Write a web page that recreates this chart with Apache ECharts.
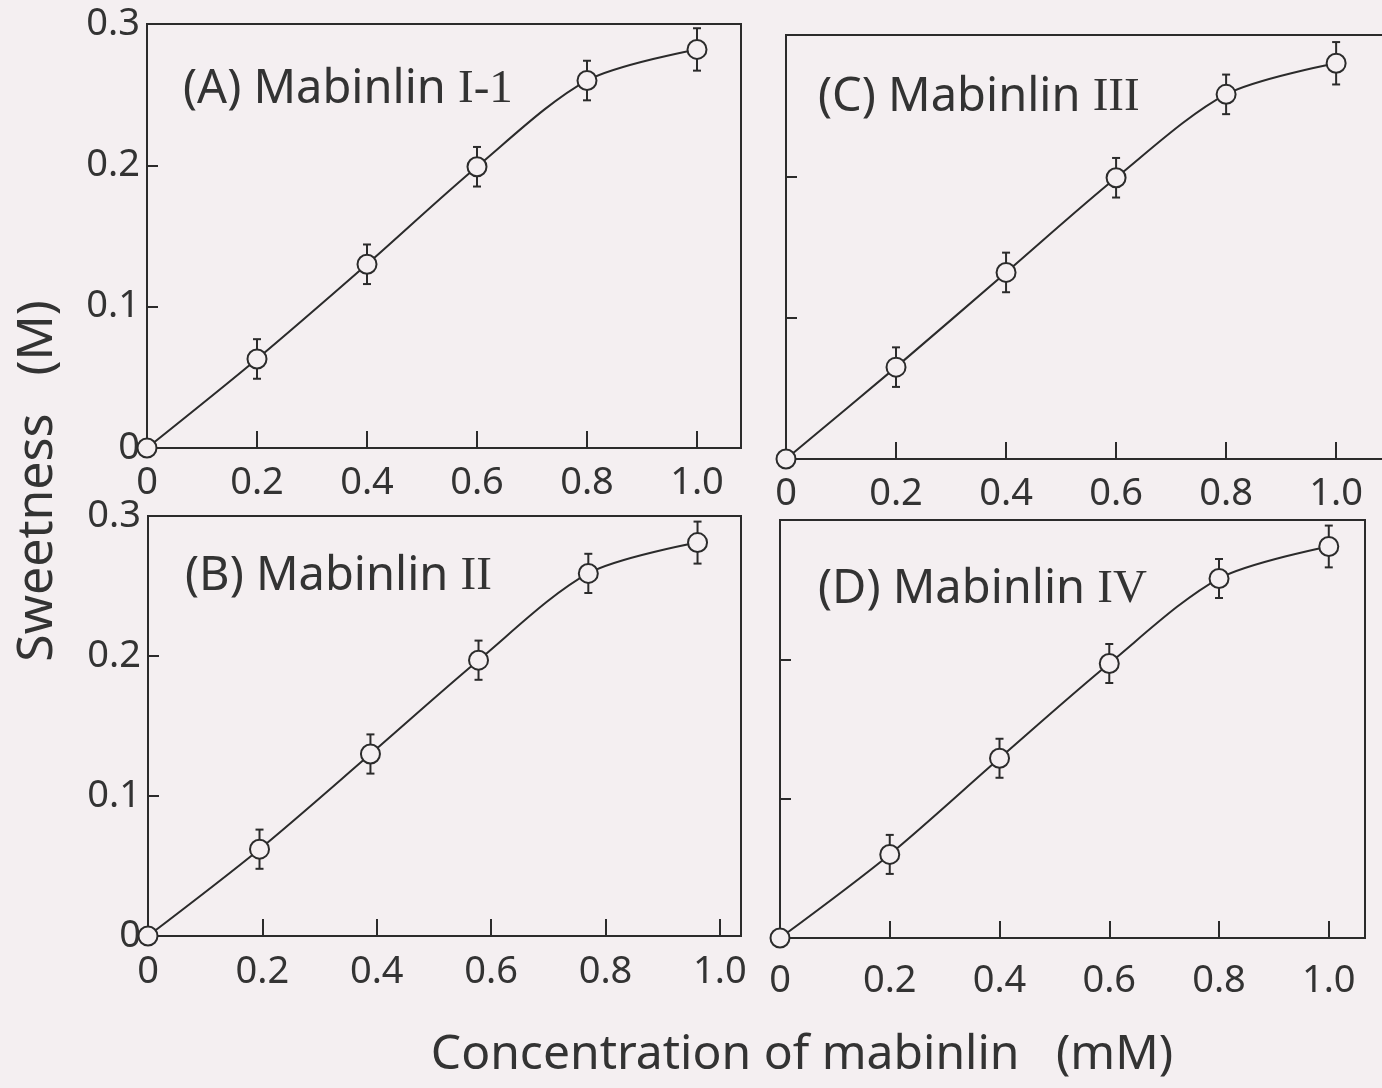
<!DOCTYPE html>
<html>
<head>
<meta charset="utf-8">
<script src="https://cdn.jsdelivr.net/npm/echarts@6/dist/echarts.min.js"></script>
<style>
html,body{margin:0;padding:0;background:#f4eff1;}
#chart{width:1382px;height:1088px;}
</style>
</head>
<body>
<div id="chart"></div>
<script>
// ---- data ----
const xTickValues = [0, 0.2, 0.4, 0.6, 0.8, 1.0];
const yTickValues = [0, 0.1, 0.2, 0.3];

const concA = [0, 0.2, 0.4, 0.6, 0.8, 1.0];
const sweetA = [0, 0.063, 0.130, 0.199, 0.260, 0.282];
const errA = [0, 0.014, 0.014, 0.014, 0.014, 0.015];

const concB = [0, 0.195, 0.389, 0.578, 0.770, 0.961];
const sweetB = [0, 0.062, 0.130, 0.197, 0.259, 0.281];
const errB = [0, 0.014, 0.014, 0.014, 0.014, 0.015];

const concC = [0, 0.2, 0.4, 0.6, 0.8, 1.0];
const sweetC = [0, 0.065, 0.132, 0.199, 0.258, 0.280];
const errC = [0, 0.014, 0.014, 0.014, 0.014, 0.015];

const concD = [0, 0.2, 0.4, 0.6, 0.8, 1.0];
const sweetD = [0, 0.060, 0.129, 0.197, 0.258, 0.281];
const errD = [0, 0.014, 0.014, 0.014, 0.014, 0.015];

const panelNames = ['(A) Mabinlin ', '(B) Mabinlin ', '(C) Mabinlin ', '(D) Mabinlin '];
const panelNumerals = ['I-1', 'II', 'III', 'IV'];
const yAxisTitle = 'Sweetness\u2002 (M)';
const xAxisTitle = 'Concentration of mabinlin\u2002 (mM)';

// ---- styling / layout ----
const INK = '#2b2b2b';
const BG = '#f4eff1';
const FONT = 'Noto Sans';

const panels = [
  {conc: concA, sweet: sweetA, err: errA, grid: {left: 147, top: 24, width: 594, height: 424}, xMax: 1.08, yLabels: true, xMargin: 16},
  {conc: concB, sweet: sweetB, err: errB, grid: {left: 148, top: 516, width: 593, height: 420}, xMax: 1.037, yLabels: true, xMargin: 17},
  {conc: concC, sweet: sweetC, err: errC, grid: {left: 786, top: 35, width: 620, height: 424}, xMax: 1.127, yLabels: false, xMargin: 16},
  {conc: concD, sweet: sweetD, err: errD, grid: {left: 780, top: 520, width: 585, height: 418}, xMax: 1.066, yLabels: false, xMargin: 24}
];
const titlePos = [[178, 61], [180, 548], [813, 69], [813, 561]];

function fmt(v) {
  if (Math.abs(v) < 1e-9) return '0';
  return v.toFixed(1);
}
function onGrid(v, step) {
  return Math.abs(v / step - Math.round(v / step)) < 1e-6;
}

const grids = [], xAxes = [], yAxes = [], series = [], titles = [];

panels.forEach((p, i) => {
  grids.push(Object.assign({show: true, borderColor: INK, borderWidth: 2, backgroundColor: 'transparent',
    containLabel: false, outerBoundsMode: 'none'}, p.grid));
  xAxes.push({
    type: 'value', gridIndex: i, min: 0, max: p.xMax, interval: 0.2,
    axisLine: {show: false},
    axisTick: {show: true, inside: true, length: 17, lineStyle: {color: INK, width: 2}},
    splitLine: {show: false},
    axisLabel: {
      show: true, margin: p.xMargin, fontFamily: FONT, fontSize: 38, color: '#333',
      showMaxLabel: false,
      formatter: v => (onGrid(v, 0.2) && v <= 1.0001) ? fmt(v) : ''
    }
  });
  yAxes.push({
    type: 'value', gridIndex: i, min: 0, max: 0.3, interval: 0.1,
    axisLine: {show: false},
    axisTick: {show: true, inside: true, length: 11, lineStyle: {color: INK, width: 2}},
    splitLine: {show: false},
    axisLabel: {
      show: p.yLabels, margin: 7, fontFamily: FONT, fontSize: 38, color: '#333',
      formatter: v => fmt(v)
    }
  });
  const pts = p.conc.map((x, k) => [x, p.sweet[k]]);
  const bars = p.conc.map((x, k) => [x, p.sweet[k] - p.err[k], p.sweet[k] + p.err[k]]);
  series.push({
    type: 'custom', xAxisIndex: i, yAxisIndex: i, z: 2, clip: false,
    data: bars,
    renderItem: function (params, api) {
      const lo = api.coord([api.value(0), api.value(1)]);
      const hi = api.coord([api.value(0), api.value(2)]);
      if (Math.abs(lo[1] - hi[1]) < 1) return null;
      const w = 4;
      const st = {stroke: INK, lineWidth: 2};
      return {type: 'group', children: [
        {type: 'line', shape: {x1: lo[0], y1: lo[1], x2: hi[0], y2: hi[1]}, style: st},
        {type: 'line', shape: {x1: lo[0] - w, y1: lo[1], x2: lo[0] + w, y2: lo[1]}, style: st},
        {type: 'line', shape: {x1: hi[0] - w, y1: hi[1], x2: hi[0] + w, y2: hi[1]}, style: st}
      ]};
    }
  });
  series.push({
    type: 'line', xAxisIndex: i, yAxisIndex: i, z: 3, clip: false,
    data: pts, smooth: 0.3,
    symbol: 'circle', symbolSize: 19, showAllSymbol: true,
    lineStyle: {color: INK, width: 2},
    itemStyle: {color: BG, borderColor: INK, borderWidth: 2},
    emphasis: {disabled: true},
    animation: false
  });
  titles.push({
    text: '{a|' + panelNames[i] + '}{b|' + panelNumerals[i] + '}',
    left: titlePos[i][0], top: titlePos[i][1],
    textStyle: {fontWeight: 'normal', rich: {
      a: {fontFamily: FONT, fontSize: 47, fontWeight: 'normal', color: '#333'},
      b: {fontFamily: 'Liberation Serif', fontSize: 47, fontWeight: 'normal', color: '#333'}
    }}
  });
});

const chart = echarts.init(document.getElementById('chart'), null, {renderer: 'canvas'});
chart.setOption({
  backgroundColor: BG,
  animation: false,
  title: titles,
  grid: grids,
  xAxis: xAxes,
  yAxis: yAxes,
  series: series,
  graphic: [
    {type: 'text', x: 38, y: 481, rotation: Math.PI / 2,
     style: {text: yAxisTitle, font: '50px "Noto Sans"', fill: '#333', align: 'center', verticalAlign: 'middle'}},
    {type: 'text', x: 802, y: 1055,
     style: {text: xAxisTitle, font: '48px "Noto Sans"', fill: '#333', align: 'center', verticalAlign: 'middle'}}
  ]
});
</script>
</body>
</html>
